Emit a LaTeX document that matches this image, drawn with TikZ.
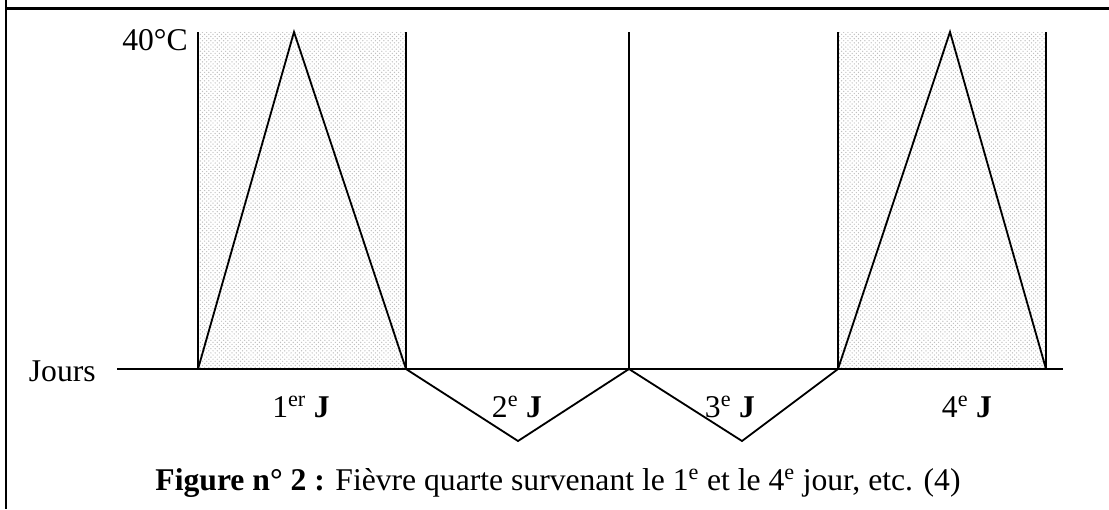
\documentclass[tikz,border=0pt]{standalone}
\usepackage{fontspec}
\setmainfont{Liberation Serif}
\usetikzlibrary{patterns}
\tikzset{
  feverfill/.style={pattern=crosshatch dots,pattern color=black!25},
  curveline/.style={line width=1.3pt,line join=miter},
  daylabel/.style={anchor=base,inner sep=0pt},
}
\begin{document}
\begin{tikzpicture}[x=0.025cm,y=-0.025cm,
    font=\fontsize{22.5}{27}\selectfont]
    \useasboundingbox (0,0) rectangle (1109,509);

    % frame
    \draw[line width=1.5pt] (6,0) -- (6,509);
    \draw[line width=1.5pt] (6,8.5) -- (1109,8.5);

    % shaded fever days
    \path[feverfill] (198,32) rectangle (406,369);
    \path[feverfill] (838,32) rectangle (1046,369);

    \draw[curveline] (198,32) -- (198,369);
    \draw[curveline] (406,32) -- (406,369);
    \draw[curveline] (629,32) -- (629,369);
    \draw[curveline] (838,32) -- (838,369);
    \draw[curveline] (1046,32) -- (1046,369);

    \draw[curveline] (117,369) -- (1063,369);

    \draw[curveline] (198,369) -- (294,32) -- (406,369)
        -- (518,441) -- (629,369) -- (742,441) -- (838,369)
        -- (950,32) -- (1046,369);

    \node[anchor=east,inner sep=0pt] (temp-label) at (188,40) {40°C};
    \node[anchor=east,inner sep=0pt] (days-label) at (96,371) {Jours};

    \node[daylabel] (day-one) at (301,417) {1\textsuperscript{er} \textbf{J}};
    \node[daylabel] (day-two) at (517,417) {2\textsuperscript{e} \textbf{J}};
    \node[daylabel] (day-three) at (730,417) {3\textsuperscript{e} \textbf{J}};
    \node[daylabel] (day-four) at (967,417) {4\textsuperscript{e} \textbf{J}};

    \node[daylabel] (caption) at (558,490)
        {\textbf{Figure n° 2 :} Fièvre quarte survenant le 1\textsuperscript{e} et le 4\textsuperscript{e} jour, etc. (4)};
\end{tikzpicture}
\end{document}
